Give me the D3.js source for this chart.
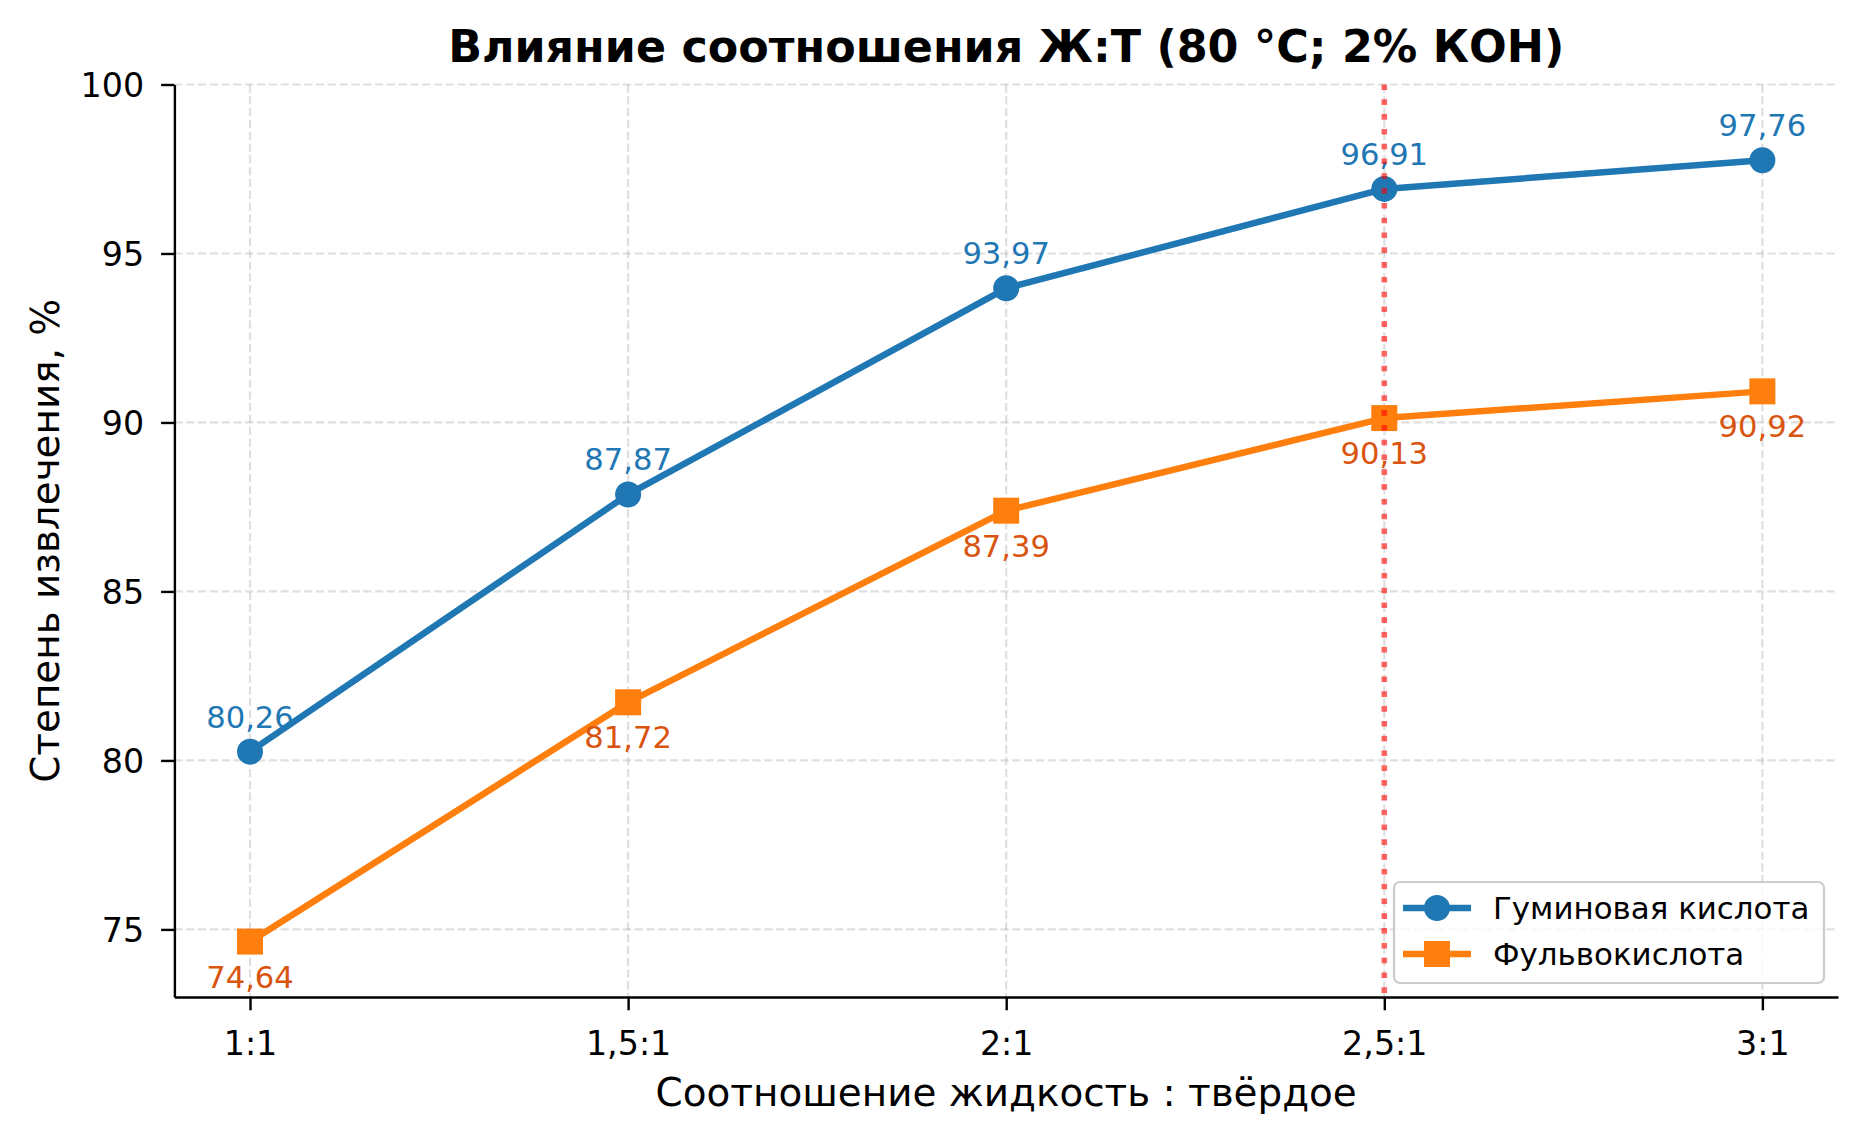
<!DOCTYPE html>
<html>
<head>
<meta charset="utf-8">
<script src="https://cdn.jsdelivr.net/npm/d3@7"></script>
<style>
  body { margin: 0; background: #fff; }
  text { font-family: "DejaVu Sans", sans-serif; }
</style>
</head>
<body>
<div id="chart"></div>
<script>
// data
const categories = ["1:1", "1,5:1", "2:1", "2,5:1", "3:1"];
const humicValues = [80.26, 87.87, 93.97, 96.91, 97.76];
const fulvicValues = [74.64, 81.72, 87.39, 90.13, 90.92];
const yTickValues = [75, 80, 85, 90, 95, 100];
const seriesNames = ["Гуминовая кислота", "Фульвокислота"];
const highlightCategory = "2,5:1";

const chartTitle = "Влияние соотношения Ж:Т (80 °C; 2% КОН)";
const xTitle = "Соотношение жидкость : твёрдое";
const yTitle = "Степень извлечения, %";

// set the dimensions and margins of the graph
const W = 1866, H = 1141;
const margin = {top: 84.5, right: 28, bottom: 144, left: 174.4},
    width = W - margin.left - margin.right,
    height = H - margin.top - margin.bottom;

const blue = "#1f77b4", orange = "#ff7f0e", orangeText = "#d9540f";

const svg = d3.select("#chart")
    .append("svg")
    .attr("width", W)
    .attr("height", H)
    .append("g")
    .attr("transform", `translate(${margin.left},${margin.top})`);

const xScale = d3.scaleLinear()
    .domain([-0.2, categories.length - 1 + 0.2])
    .range([0, width]);

const yScale = d3.scaleLinear()
    .domain([73, 100])
    .range([height, 0]);

const idx = d3.range(categories.length);

// grid
const grid = svg.append("g").attr("class", "grid")
    .attr("stroke", "#b0b0b0").attr("stroke-opacity", 0.4)
    .attr("stroke-width", 2.2).attr("stroke-dasharray", "8.2 3.6");
grid.selectAll("line.v").data(idx).join("line")
    .attr("x1", d => xScale(d)).attr("x2", d => xScale(d))
    .attr("y1", 0).attr("y2", height);
grid.selectAll("line.h").data(yTickValues).join("line")
    .attr("x1", 0).attr("x2", width)
    .attr("y1", d => yScale(d)).attr("y2", d => yScale(d));

// axes
const xAxis = svg.append("g")
    .attr("transform", `translate(0, ${height})`)
    .call(d3.axisBottom(xScale).tickValues(idx).tickFormat(i => categories[i])
        .tickSizeInner(13.3).tickSizeOuter(0).tickPadding(17));
const yAxis = svg.append("g")
    .call(d3.axisLeft(yScale).tickValues(yTickValues)
        .tickSizeInner(13.3).tickSizeOuter(0).tickPadding(17));

[xAxis, yAxis].forEach(a => {
    a.select(".domain").attr("stroke", "#000").attr("stroke-width", 2.4);
    a.selectAll(".tick line").attr("stroke", "#000").attr("stroke-width", 2.4);
    a.selectAll(".tick text")
        .attr("fill", "#000")
        .style("font-family", "DejaVu Sans")
        .style("font-size", "33.3px");
});
xAxis.selectAll(".tick text").attr("dy", "0.83em");
yAxis.selectAll(".tick text").attr("dy", "0.36em");

// series
const series = [
    {name: seriesNames[0], values: humicValues, color: blue, textColor: blue, marker: "circle", labelDy: -24},
    {name: seriesNames[1], values: fulvicValues, color: orange, textColor: orangeText, marker: "square", labelDy: 46}
];

const line = d3.line()
    .x((d, i) => xScale(i))
    .y(d => yScale(d));

const fmt = v => d3.format(".2f")(v).replace(".", ",");

function drawMarker(g, type, color) {
    if (type === "circle") {
        g.append("circle").attr("r", 13).attr("fill", color);
    } else {
        g.append("rect").attr("x", -13).attr("y", -13)
            .attr("width", 26).attr("height", 26).attr("fill", color);
    }
}

series.forEach(s => {
    svg.append("path")
        .datum(s.values)
        .attr("fill", "none")
        .attr("stroke", s.color)
        .attr("stroke-width", 6.5)
        .attr("stroke-linejoin", "round")
        .attr("d", line);

    s.values.forEach((v, i) => {
        const g = svg.append("g")
            .attr("transform", `translate(${xScale(i)},${yScale(v)})`);
        drawMarker(g, s.marker, s.color);
    });

    svg.selectAll(null)
        .data(s.values)
        .join("text")
        .attr("x", (d, i) => xScale(i))
        .attr("y", d => yScale(d) + s.labelDy)
        .attr("text-anchor", "middle")
        .attr("fill", s.textColor)
        .style("font-size", "30.6px")
        .text(d => fmt(d));
});

// highlighted ratio
const hx = xScale(categories.indexOf(highlightCategory));
svg.append("line")
    .attr("x1", hx).attr("x2", hx)
    .attr("y1", 0).attr("y2", height)
    .attr("stroke", "red").attr("stroke-opacity", 0.6)
    .attr("stroke-width", 5.6)
    .attr("stroke-dasharray", "5.6 9.2");

// titles
svg.append("text")
    .attr("x", width / 2).attr("y", 62 - margin.top)
    .attr("text-anchor", "middle")
    .style("font-size", "44.4px").style("font-weight", "bold")
    .text(chartTitle);

svg.append("text")
    .attr("x", width / 2).attr("y", 1106 - margin.top)
    .attr("text-anchor", "middle")
    .style("font-size", "38.9px")
    .text(xTitle);

svg.append("text")
    .attr("transform", `translate(${59 - margin.left}, ${height / 2}) rotate(-90)`)
    .attr("text-anchor", "middle")
    .style("font-size", "38.9px")
    .text(yTitle);

// legend
const legW = 430, legH = 101;
const legend = svg.append("g")
    .attr("transform", `translate(${width - 14 - legW}, ${height - 14 - legH})`);
legend.append("rect")
    .attr("width", legW).attr("height", legH)
    .attr("rx", 6).attr("ry", 6)
    .attr("fill", "#fff").attr("fill-opacity", 0.8)
    .attr("stroke", "#cccccc").attr("stroke-width", 2.2);

series.forEach((s, k) => {
    const cy = 26 + k * 46;
    legend.append("line")
        .attr("x1", 9).attr("x2", 77)
        .attr("y1", cy).attr("y2", cy)
        .attr("stroke", s.color).attr("stroke-width", 6.5);
    const g = legend.append("g").attr("transform", `translate(43,${cy})`);
    drawMarker(g, s.marker, s.color);
    legend.append("text")
        .attr("x", 99).attr("y", cy + 11)
        .attr("fill", "#000")
        .style("font-size", "30.9px")
        .text(s.name);
});
</script>
</body>
</html>
